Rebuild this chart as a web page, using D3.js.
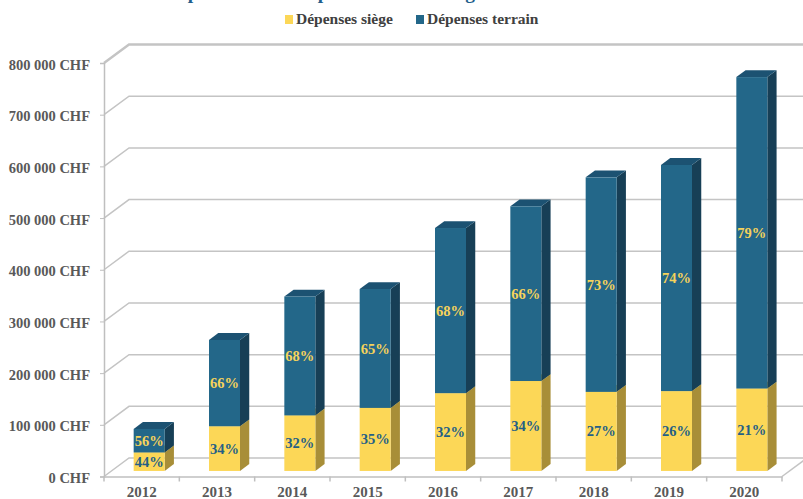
<!DOCTYPE html>
<html>
<head>
<meta charset="utf-8">
<script src="https://cdn.jsdelivr.net/npm/d3@7"></script>
<style>
  body { margin: 0; background: #fff; }
  svg { display: block; font-family: "Liberation Serif", "DejaVu Serif", serif; }
  .axis text { fill: #595959; font-weight: bold; }
  .axis path, .axis line { stroke: #bfbfbf; }
</style>
</head>
<body>
<svg id="chart1"></svg>
<script>
let w = 803;
let h = 499;
let svg;
let xScale, yScale;

// data
let years = ['2012', '2013', '2014', '2015', '2016', '2017', '2018', '2019', '2020'];
let siege = [35800, 86500, 107500, 122000, 150500, 174000, 153000, 154500, 159500];
let terrain = [45500, 167000, 230000, 230000, 319500, 338000, 415000, 437500, 602500];
let yTicks = [0, 100000, 200000, 300000, 400000, 500000, 600000, 700000, 800000];
let seriesNames = ['Dépenses siège', 'Dépenses terrain'];

// colours: front, side, top, label
let colors = [
  { front: '#fcd757', side: '#a88e38', top: '#d9bb4a', label: '#245f86' },
  { front: '#236789', side: '#173f56', top: '#1c5272', label: '#f6d35b' }
];

// 3d projection: depth z from 0 (front) to 1 (back wall)
let depthX = 25, depthY = -18.5;
let barZ0 = 0.3, barZ1 = 0.67;
let barWidth = 31;

let px = (x, z) => x + depthX * z;
let py = (y, z) => y + depthY * z;

function fmtCHF(d) {
  return d3.format(',')(d).replace(/,/g, ' ') + ' CHF';
}

function initGraph() {
  svg = d3.select('#chart1').attr('width', w).attr('height', h);

  xScale = d3.scaleBand()
    .domain(years)
    .range([104, 782]);

  yScale = d3.scaleLinear()
    .domain([0, 800000])
    .range([476.5, 63]);

  // title (mostly above the visible area, as in the original)
  svg.append('text')
    .attr('x', 165)
    .attr('y', -1.5)
    .attr('fill', '#1f5f8b')
    .style('font-size', '19.5px')
    .style('font-weight', 'bold')
    .text('Répartition des dépenses entre le siège et le terrain');

  // legend
  let legend = svg.append('g');
  let legX = [285, 416];
  seriesNames.forEach((name, i) => {
    legend.append('rect')
      .attr('x', legX[i]).attr('y', 15)
      .attr('width', 8).attr('height', 9)
      .attr('fill', colors[i].front);
    legend.append('text')
      .attr('x', legX[i] + 11).attr('y', 24)
      .attr('fill', '#404040')
      .style('font-size', '15.5px')
      .style('font-weight', 'bold')
      .text(name);
  });

  // walls & gridlines
  let grid = svg.append('g');
  yTicks.forEach((v) => {
    let y = yScale(v);
    grid.append('polyline')
      .attr('points', `${px(104, 0)},${y} ${px(104, 1)},${py(y, 1)} ${w + 10},${py(y, 1)}`)
      .attr('fill', 'none')
      .attr('stroke', '#c4c4c4')
      .attr('stroke-width', v == 800000 ? 2.5 : 1.5);
  });
  // floor right edge
  grid.append('line')
    .attr('x1', 782).attr('y1', yScale(0))
    .attr('x2', px(782, 1)).attr('y2', py(yScale(0), 1))
    .attr('stroke', '#c4c4c4').attr('stroke-width', 1.5);

  // AXES
  let yAxis = d3.axisLeft(yScale)
    .tickValues(yTicks)
    .tickSize(4)
    .tickPadding(10)
    .tickFormat(fmtCHF);
  let yAxisGroup = svg.append('g')
    .attr('class', 'axis')
    .attr('transform', 'translate(104,0)')
    .call(yAxis)
    .attr('font-family', null)
    .attr('font-size', null);
  yAxisGroup.selectAll('text')
    .attr('dy', '0.42em')
    .style('font-size', '14.5px');
  yAxisGroup.select('.domain').attr('stroke-width', 1.5);

  let xAxis = d3.axisBottom(xScale)
    .tickSize(0)
    .tickPadding(10);
  let xAxisGroup = svg.append('g')
    .attr('class', 'axis')
    .attr('transform', `translate(0,${yScale(0)})`)
    .call(xAxis)
    .attr('font-family', null)
    .attr('font-size', null);
  xAxisGroup.selectAll('text')
    .style('font-size', '15px');
  xAxisGroup.select('.domain').attr('stroke-width', 1.5);
  // ticks on category boundaries
  xAxisGroup.selectAll('line.bound')
    .data(years.concat(['end']))
    .enter()
    .append('line')
    .attr('class', 'bound')
    .attr('x1', (d, i) => xScale.range()[0] + i * xScale.step())
    .attr('x2', (d, i) => xScale.range()[0] + i * xScale.step())
    .attr('y1', 0).attr('y2', 5)
    .attr('stroke-width', 1.5);

  // stacked 3d bars
  let stacks = years.map((yr, i) => ({ year: yr, values: [siege[i], terrain[i]] }));
  let bars = svg.append('g');

  stacks.forEach((d) => {
    let total = d.values[0] + d.values[1];
    let x0 = xScale(d.year) + xScale.bandwidth() / 2 - barWidth / 2;
    let x1 = x0 + barWidth;
    let base = 0;
    d.values.forEach((v, s) => {
      let yb = yScale(base);
      let yt = yScale(base + v);
      let c = colors[s];
      let g = bars.append('g');
      // side face
      g.append('polygon')
        .attr('points', [
          [px(x1, barZ0), py(yb, barZ0)],
          [px(x1, barZ1), py(yb, barZ1)],
          [px(x1, barZ1), py(yt, barZ1)],
          [px(x1, barZ0), py(yt, barZ0)]
        ].join(' '))
        .attr('fill', c.side);
      // top face
      g.append('polygon')
        .attr('points', [
          [px(x0, barZ0), py(yt, barZ0)],
          [px(x1, barZ0), py(yt, barZ0)],
          [px(x1, barZ1), py(yt, barZ1)],
          [px(x0, barZ1), py(yt, barZ1)]
        ].join(' '))
        .attr('fill', c.top);
      // front face
      g.append('rect')
        .attr('x', px(x0, barZ0))
        .attr('y', py(yt, barZ0))
        .attr('width', barWidth)
        .attr('height', yb - yt)
        .attr('fill', c.front);
      // percentage label
      g.append('text')
        .attr('x', px(x0, barZ0) + barWidth / 2)
        .attr('y', py((yb + yt) / 2, barZ0))
        .attr('dy', '0.35em')
        .attr('text-anchor', 'middle')
        .attr('fill', c.label)
        .style('font-size', '14.5px')
        .style('font-weight', 'bold')
        .text(Math.round(v / total * 100) + '%');
      base += v;
    });
  });
}

window.onload = function() {
  initGraph();
}
</script>
</body>
</html>
